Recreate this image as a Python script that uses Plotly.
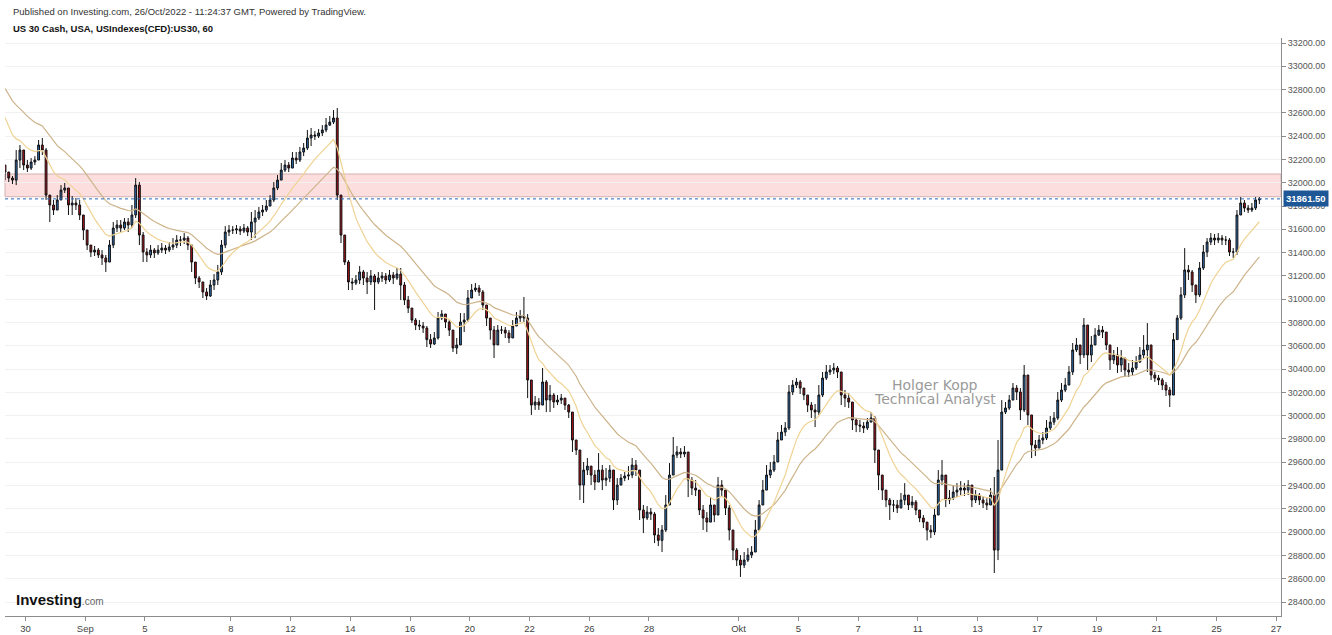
import plotly.graph_objects as go

# ---------------- data (US30 CFD, ~3h bars) ----------------
first_open = 32152

closes = [
    # Aug 29 (partial)
    32092, 32040, 32023, 32195, 32281, 32152,
    # Aug 30
    32126, 32178, 32195, 32324, 32281, 31894, 31809, 31766,
    # Aug 31
    31852, 31937, 31955, 31809, 31826, 31809, 31723, 31594,
    # Sep 1
    31465, 31405, 31422, 31380, 31354, 31319, 31465, 31611,
    # Sep 2
    31637, 31611, 31663, 31637, 31723, 31980, 31551, 31405,
    # Sep 5
    31380, 31422, 31397, 31422, 31439, 31422, 31448,
    # Sep 6
    31465, 31508, 31508, 31525, 31465, 31319, 31182, 31148,
    # Sep 7
    31062, 31028, 31122, 31165, 31234, 31465, 31577, 31594,
    # Sep 8
    31594, 31603, 31585, 31611, 31577, 31663, 31697, 31749,
    # Sep 9
    31766, 31800, 31852, 31955, 32023, 32109, 32152, 32126,
    # Sep 12
    32212, 32195, 32264, 32298, 32384, 32410, 32401, 32427,
    # Sep 13
    32453, 32495, 32521, 32556, 31894, 31551, 31319, 31148,
    # Sep 14
    31139, 31165, 31234, 31182, 31148, 31199, 31148, 31182,
    # Sep 15
    31199, 31165, 31208, 31182, 31216, 31122, 30993, 30924,
    # Sep 16
    30821, 30778, 30770, 30752, 30653, 30615, 30667, 30838,
    # Sep 19
    30873, 30804, 30735, 30581, 30607, 30804, 30821, 31010,
    # Sep 20
    31079, 31096, 31062, 30950, 30838, 30735, 30607, 30735,
    # Sep 21
    30735, 30710, 30667, 30770, 30838, 30856, 30838, 30306,
    # Sep 22
    30091, 30117, 30091, 30289, 30134, 30177, 30117, 30134,
    # Sep 23
    30151, 30091, 30031, 29791, 29705, 29404, 29533, 29567,
    # Sep 26
    29490, 29430, 29533, 29447, 29464, 29533, 29276, 29404,
    # Sep 27
    29464, 29482, 29490, 29576, 29533, 29190, 29121, 29172,
    # Sep 28
    29155, 28975, 28929, 29018, 29233, 29490, 29662, 29688,
    # Sep 29
    29671, 29688, 29447, 29378, 29361, 29190, 29121, 29086,
    # Sep 30
    29233, 29147, 29404, 29361, 29207, 29018, 28846, 28760,
    # Oct 3
    28717, 28760, 28803, 28829, 29018, 29233, 29361, 29490,
    # Oct 4
    29533, 29602, 29791, 29859, 29894, 30203, 30263, 30289,
    # Oct 5
    30237, 30177, 30091, 30049, 30031, 30177, 30323, 30375,
    # Oct 6
    30392, 30409, 30375, 30177, 30151, 30117, 29963, 29920,
    # Oct 7
    29911, 29894, 29945, 29980, 29705, 29490, 29361, 29276,
    # Oct 10
    29233, 29233, 29207, 29276, 29318, 29233, 29258, 29190,
    # Oct 11
    29121, 29086, 29018, 29001, 29147, 29447, 29490, 29276,
    # Oct 12
    29293, 29344, 29361, 29378, 29361, 29404, 29276, 29318,
    # Oct 13
    29276, 29250, 29233, 29318, 28846, 29533, 30031, 30066,
    # Oct 14
    30134, 30237, 30203, 30049, 30349, 30006, 29748, 29722,
    # Oct 17
    29791, 29808, 29894, 29945, 29980, 30134, 30220, 30263,
    # Oct 18
    30375, 30564, 30607, 30521, 30778, 30521, 30607, 30692,
    # Oct 19
    30735, 30718, 30607, 30478, 30521, 30435, 30495, 30392,
    # Oct 20
    30375, 30409, 30461, 30521, 30564, 30607, 30349, 30323,
    # Oct 21
    30306, 30263, 30220, 30177, 30653, 30838, 31037, 31251,
    # Oct 24
    31234, 31122, 31037, 31268, 31405, 31491, 31525, 31508,
    # Oct 25
    31525, 31508, 31508, 31405, 31405, 31723, 31826, 31783,
    # Oct 26 (partial)
    31766, 31783, 31852, 31861.5,
]

highs = [
    32152, 32092, 32058, 32281, 32324, 32281,
    32195, 32212, 32229, 32367, 32384, 32298, 31894, 31852,
    31894, 31980, 31998, 31937, 31886, 31869, 31852, 31723,
    31551, 31465, 31457, 31439, 31422, 31380, 31508, 31663,
    31680, 31680, 31697, 31697, 31809, 32040, 32006, 31577,
    31439, 31465, 31439, 31465, 31482, 31465, 31491,
    31525, 31551, 31542, 31568, 31542, 31465, 31319, 31199,
    31130, 31096, 31165, 31216, 31294, 31508, 31628, 31637,
    31628, 31637, 31628, 31646, 31628, 31749, 31766, 31792,
    31809, 31852, 31894, 32006, 32066, 32169, 32195, 32178,
    32264, 32264, 32307, 32341, 32453, 32470, 32444, 32461,
    32495, 32556, 32573, 32624, 32642, 31852, 31525, 31336,
    31182, 31208, 31285, 31251, 31234, 31251, 31216, 31234,
    31234, 31225, 31251, 31234, 31268, 31268, 31148, 31028,
    30873, 30838, 30821, 30804, 30770, 30701, 30718, 30890,
    30907, 30873, 30821, 30735, 30667, 30881, 30881, 31079,
    31130, 31139, 31122, 31079, 30941, 30838, 30770, 30778,
    30770, 30761, 30735, 30821, 30890, 30907, 31019, 30873,
    30220, 30169, 30151, 30409, 30306, 30263, 30194, 30177,
    30186, 30151, 30100, 30014, 29791, 29705, 29602, 29636,
    29567, 29533, 29679, 29576, 29550, 29576, 29533, 29464,
    29499, 29516, 29567, 29636, 29619, 29533, 29233, 29224,
    29207, 29172, 29035, 29061, 29318, 29593, 29817, 29739,
    29722, 29739, 29662, 29473, 29447, 29318, 29233, 29172,
    29301, 29233, 29473, 29447, 29318, 29233, 29018, 28863,
    28803, 28829, 28863, 28880, 29104, 29276, 29447, 29576,
    29602, 29662, 29859, 29920, 29945, 30263, 30306, 30323,
    30306, 30237, 30177, 30117, 30100, 30263, 30375, 30435,
    30435, 30452, 30426, 30375, 30220, 30194, 30091, 29980,
    29963, 29945, 29980, 30031, 29997, 29662, 29464, 29361,
    29293, 29276, 29276, 29336, 29421, 29318, 29310, 29276,
    29190, 29147, 29086, 29061, 29207, 29533, 29619, 29490,
    29361, 29404, 29421, 29438, 29421, 29447, 29378, 29361,
    29336, 29310, 29293, 29378, 29473, 29791, 30134, 30117,
    30177, 30280, 30263, 30237, 30435, 30306, 29980, 29791,
    29834, 29859, 29963, 29997, 30031, 30203, 30280, 30323,
    30426, 30624, 30667, 30607, 30838, 30778, 30684, 30752,
    30778, 30770, 30701, 30581, 30564, 30589, 30564, 30461,
    30452, 30478, 30512, 30589, 30692, 30795, 30607, 30375,
    30349, 30323, 30289, 30246, 30710, 30864, 31104, 31439,
    31294, 31251, 31122, 31319, 31465, 31525, 31568, 31560,
    31568, 31551, 31542, 31525, 31439, 31766, 31877, 31852,
    31809, 31826, 31877, 31877,
]

lows = [
    32023, 32006, 31989, 31980, 32126, 32109,
    32092, 32109, 32152, 32195, 32238, 31852, 31663, 31723,
    31766, 31852, 31912, 31723, 31723, 31766, 31680, 31508,
    31422, 31362, 31371, 31354, 31294, 31234, 31319, 31439,
    31577, 31577, 31594, 31577, 31611, 31697, 31465, 31319,
    31319, 31354, 31354, 31380, 31397, 31388, 31405,
    31422, 31439, 31457, 31474, 31422, 31234, 31130, 31096,
    31010, 30993, 31019, 31079, 31122, 31208, 31439, 31542,
    31560, 31560, 31551, 31568, 31542, 31508, 31525, 31680,
    31714, 31749, 31800, 31835, 31937, 32023, 32092, 32092,
    32178, 32161, 32178, 32229, 32281, 32315, 32367, 32384,
    32401, 32434, 32487, 32504, 31852, 31482, 31294, 31079,
    31079, 31122, 31130, 31122, 31044, 31122, 30907, 31130,
    31148, 31130, 31148, 31130, 31165, 30993, 30950, 30881,
    30795, 30735, 30735, 30710, 30589, 30581, 30607, 30653,
    30821, 30752, 30684, 30547, 30529, 30607, 30718, 30804,
    31028, 31062, 31028, 30907, 30770, 30653, 30495, 30653,
    30701, 30667, 30624, 30718, 30787, 30804, 30804, 30151,
    30006, 30049, 30049, 30091, 30031, 30031, 30066, 30091,
    30100, 30049, 29980, 29688, 29662, 29276, 29250, 29490,
    29404, 29361, 29447, 29361, 29395, 29430, 29190, 29233,
    29413, 29438, 29447, 29464, 29482, 29104, 28992, 29104,
    29104, 28906, 28880, 28829, 29001, 29233, 29533, 29636,
    29636, 29644, 29301, 29318, 29310, 29147, 29018, 29001,
    29172, 29086, 29147, 29301, 29147, 28929, 28760, 28709,
    28615, 28692, 28743, 28777, 28846, 29018, 29233, 29361,
    29464, 29516, 29602, 29791, 29825, 29877, 30177, 30237,
    30186, 30134, 30031, 29980, 29902, 30006, 30160, 30306,
    30349, 30357, 30323, 30091, 30074, 30066, 29877, 29859,
    29859, 29851, 29877, 29945, 29593, 29361, 29276, 29215,
    29104, 29172, 29164, 29207, 29233, 29190, 29207, 29147,
    29086, 29035, 28929, 28949, 28975, 29147, 29404, 29215,
    29241, 29276, 29301, 29318, 29310, 29318, 29215, 29250,
    29233, 29207, 29190, 29250, 28649, 28760, 29533, 30014,
    30049, 30177, 30134, 29963, 30031, 29920, 29636, 29653,
    29739, 29756, 29791, 29877, 29920, 29963, 30117, 30203,
    30306, 30349, 30547, 30443, 30495, 30392, 30461, 30607,
    30684, 30667, 30564, 30392, 30443, 30366, 30375, 30332,
    30332, 30349, 30392, 30452, 30495, 30375, 30306, 30289,
    30263, 30220, 30169, 30074, 30177, 30684, 30821, 31010,
    31165, 31062, 30967, 31019, 31251, 31362, 31465, 31465,
    31482, 31465, 31465, 31371, 31354, 31380, 31749, 31749,
    31740, 31749, 31766, 31817,
]

day_labels = ["30", "Sep", "5", "8", "12", "14", "16", "20", "22", "26", "28",
              "Okt", "5", "7", "11", "13", "17", "19", "21", "25", "27"]
day_label_bars = [6, 22, 38, 61, 77, 93, 109, 125, 141, 157, 173,
                  197, 213, 229, 245, 261, 277, 293, 309, 325, 341]

price_ticks = [28400, 28600, 28800, 29000, 29200, 29400, 29600, 29800, 30000,
               30200, 30400, 30600, 30800, 31000, 31200, 31400, 31600, 31800,
               32000, 32200, 32400, 32600, 32800, 33000, 33200]

# moving-average values at the first visible bar
fast_ma_start = 32560
slow_ma_start = 32810
fast_ma_span = 12
slow_ma_span = 27

zone_low = 31880
zone_high = 32075
last_price = 31861.5

# ---------------- derived series ----------------
n = len(closes)
xs = list(range(n))
opens = [first_open] + closes[:-1]
hi = [max(h, o, c) for h, o, c in zip(highs, opens, closes)]
lo = [min(l, o, c) for l, o, c in zip(lows, opens, closes)]


def ema(values, start, span):
    a = 2.0 / (span + 1)
    out = [start]
    cur = start
    for v in values[1:]:
        cur = cur + a * (v - cur)
        out.append(cur)
    return out


fast_ma = ema(closes, fast_ma_start, fast_ma_span)
slow_ma = ema(closes, slow_ma_start, slow_ma_span)

FONT = "Liberation Sans, Arial, sans-serif"

fig = go.Figure()

fig.add_trace(go.Scatter(x=xs, y=slow_ma, mode="lines",
                         line=dict(color="#cdb48b", width=1.2), hoverinfo="skip"))
fig.add_trace(go.Scatter(x=xs, y=fast_ma, mode="lines",
                         line=dict(color="#f0d394", width=1.2), hoverinfo="skip"))

fig.add_trace(go.Candlestick(
    x=xs, open=opens, high=hi, low=lo, close=closes,
    increasing=dict(line=dict(color="#111111", width=1), fillcolor="#2f6db3"),
    decreasing=dict(line=dict(color="#111111", width=1), fillcolor="#b0121a"),
    whiskerwidth=0,
))

# resistance zone and last-price line
fig.add_shape(type="rect", xref="paper", x0=0, x1=1, yref="y", y0=zone_low, y1=zone_high,
              fillcolor="rgba(250,200,200,0.6)", line=dict(color="#d4b0b0", width=1), layer="below")
fig.add_shape(type="line", xref="paper", x0=0, x1=1, yref="y", y0=last_price, y1=last_price,
              line=dict(color="#2a66b8", width=1, dash="dot"))

annotations = [
    dict(xref="paper", yref="paper", x=0.0047, y=1.045, xanchor="left", yanchor="middle",
         text="Published on Investing.com, 26/Oct/2022 - 11:24:37 GMT, Powered by TradingView.",
         showarrow=False, font=dict(family=FONT, size=9.5, color="#333333")),
    dict(xref="paper", yref="paper", x=0.0047, y=1.0173, xanchor="left", yanchor="middle",
         text="<b>US 30 Cash, USA, USIndexes(CFD):US30, 60</b>",
         showarrow=False, font=dict(family=FONT, size=9.5, color="#111111")),
    dict(xref="paper", yref="paper", x=0.7288, y=0.3997, xanchor="center", yanchor="middle",
         text="Holger Kopp", showarrow=False,
         font=dict(family="DejaVu Sans", size=14, color="#9a9a9a")),
    dict(xref="paper", yref="paper", x=0.7288, y=0.3754, xanchor="center", yanchor="middle",
         text="Technical Analyst", showarrow=False,
         font=dict(family="DejaVu Sans", size=14, color="#9a9a9a")),
    dict(xref="paper", yref="paper", x=0.007, y=0.0277, xanchor="left", yanchor="middle",
         text="<b>Investing</b><span style='font-size:10px;color:#666666'>.com</span>",
         showarrow=False, font=dict(family=FONT, size=15, color="#111111")),
    dict(xref="paper", yref="y", x=1.0, y=last_price, xanchor="left", yanchor="middle",
         xshift=2, text="<b>31861.50</b>", showarrow=False, bgcolor="#1d5796",
         borderpad=2, font=dict(family=FONT, size=9.5, color="#ffffff")),
]

fig.update_layout(
    width=1332, height=635,
    margin=dict(l=5, r=51, t=38, b=19, autoexpand=False),
    paper_bgcolor="#ffffff", plot_bgcolor="#ffffff",
    showlegend=False,
    annotations=annotations,
    xaxis=dict(
        range=[0.0, 341.8],
        automargin=False,
        rangeslider=dict(visible=False),
        tickmode="array",
        tickvals=[b - 0.5 for b in day_label_bars],
        ticktext=day_labels,
        showgrid=False, zeroline=False,
        showline=True, linecolor="#8c8c8c", linewidth=1,
        ticks="outside", ticklen=4, tickcolor="#8c8c8c",
        tickfont=dict(family=FONT, size=9.5, color="#444444"),
        fixedrange=True,
    ),
    yaxis=dict(
        side="right",
        automargin=False,
        range=[28279.8, 33242.9],
        tickmode="array",
        tickvals=price_ticks,
        ticktext=[f"{t:.2f}" for t in price_ticks],
        showgrid=True, gridcolor="#f1f1f1", gridwidth=1,
        zeroline=False,
        showline=True, linecolor="#8c8c8c", linewidth=1,
        ticks="outside", ticklen=4, tickcolor="#8c8c8c",
        tickfont=dict(family=FONT, size=9, color="#555555"),
        fixedrange=True,
    ),
)

fig.write_html("out.html")
